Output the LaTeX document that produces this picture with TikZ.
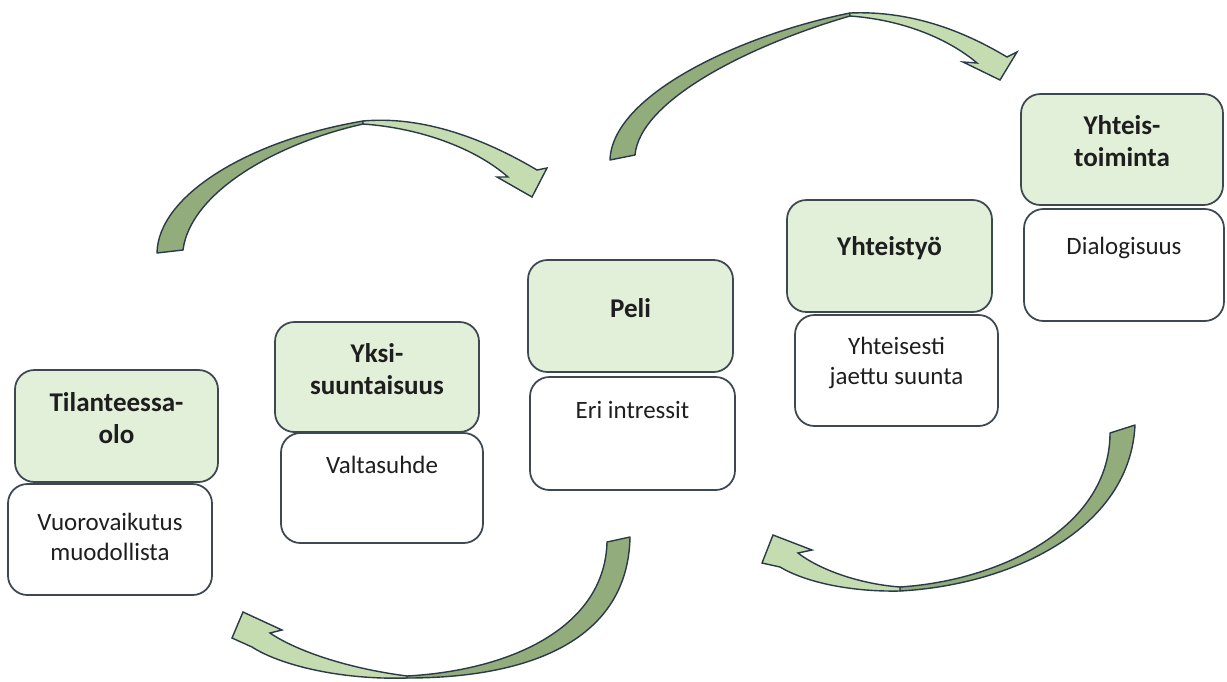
\documentclass[tikz,border=0pt]{standalone}
\usepackage{fontspec}
\setmainfont{Carlito}
\definecolor{boxgreen}{HTML}{E2EFD9}
\definecolor{boxline}{HTML}{3E4852}
\definecolor{arrline}{HTML}{2B3A48}
\definecolor{arrdark}{RGB}{146,172,124}
\definecolor{arrlight}{RGB}{197,219,176}
\definecolor{txt}{HTML}{1E1E1E}
\tikzset{
  greenbox/.style={draw=boxline, line width=1pt, fill=boxgreen, rounded corners=11pt, inner sep=0pt},
  whitebox/.style={draw=boxline, line width=1pt, fill=white, rounded corners=11pt, inner sep=0pt},
  headtext/.style={inner sep=0pt, align=center, text=txt, font=\fontsize{15.4pt}{18.2pt}\selectfont\bfseries},
  bodytext/.style={inner sep=0pt, align=center, anchor=north, text=txt, font=\fontsize{14.2pt}{17.1pt}\selectfont},
  darkpart/.style={fill=arrdark, draw=arrline, line width=0.8pt, line join=round},
  lightpart/.style={fill=arrlight, draw=arrline, line width=0.8pt, line join=miter},
}
\begin{document}
\begin{tikzpicture}[x=0.02cm, y=-0.02cm]
\useasboundingbox[fill=white] (0,0) rectangle (1227,681);

% ---- boxes ----
\node[greenbox, minimum width=4.06cm, minimum height=2.24cm] (g1) at (116.5,426) {};
\node[whitebox, minimum width=4.08cm, minimum height=2.22cm] (w1) at (110,539.5) {};
\node[greenbox, minimum width=4.08cm, minimum height=2.20cm] (g2) at (377,377) {};
\node[whitebox, minimum width=4.04cm, minimum height=2.20cm] (w2) at (382,488) {};
\node[greenbox, minimum width=4.10cm, minimum height=2.24cm] (g3) at (630.5,316) {};
\node[whitebox, minimum width=4.10cm, minimum height=2.26cm] (w3) at (632.5,433.5) {};
\node[greenbox, minimum width=4.10cm, minimum height=2.24cm] (g4) at (889.5,256) {};
\node[whitebox, minimum width=4.06cm, minimum height=2.22cm] (w4) at (896.5,370.5) {};
\node[greenbox, minimum width=4.04cm, minimum height=2.22cm] (g5) at (1122,149.5) {};
\node[whitebox, minimum width=4.00cm, minimum height=2.24cm] (w5) at (1124,265) {};

% ---- headings ----
\node[headtext] (h1) at ([yshift=0.16cm]g1.center) {Tilanteessa-\\olo};
\node[headtext] (h2) at ([yshift=0.16cm]g2.center) {Yksi-\\suuntaisuus};
\node[headtext] (h3) at ([yshift=0.16cm]g3.center) {Peli};
\node[headtext] (h4) at ([yshift=0.16cm]g4.center) {Yhteistyö};
\node[headtext] (h5) at ([yshift=0.16cm]g5.center) {Yhteis-\\toiminta};

% ---- body texts ----
\node[bodytext] (b1) at ([yshift=-0.6cm]w1.north) {Vuorovaikutus\\muodollista};
\node[bodytext] (b2) at ([yshift=-0.47cm]w2.north) {Valtasuhde};
\node[bodytext] (b3) at ([yshift=-0.5cm]w3.north) {Eri intressit};
\node[bodytext] (b4) at ([yshift=-0.46cm]w4.north) {Yhteisesti\\jaettu suunta};
\node[bodytext] (b5) at ([yshift=-0.58cm]w5.north) {Dialogisuus};

% ---- curved arrow A (top left) ----
\path[darkpart] (157,253) .. controls (158,195) and (250,140) .. (363,121)
  -- (363,124) .. controls (270,145) and (190,195) .. (183,250) -- cycle;
\path[lightpart] (363,121) .. controls (430,115) and (495,145) .. (537,170)
  -- (547,168) -- (532,197) -- (497,177) -- (508,177)
  .. controls (475,148) and (420,128) .. (363,124) -- cycle;

% ---- curved arrow B (top right) ----
\path[darkpart] (610,160) .. controls (612,95) and (740,35) .. (850,13)
  -- (850,16) .. controls (750,45) and (640,100) .. (635,155) -- cycle;
\path[lightpart] (850,13) .. controls (920,10) and (975,38) .. (1007,57)
  -- (1017,52) -- (1000,80) -- (963,62) -- (977,63)
  .. controls (950,40) and (905,20) .. (850,16) -- cycle;

% ---- curved arrow C (bottom left) ----
\path[darkpart] (407,678) .. controls (530,678) and (628,640) .. (630,537)
  -- (607,542) .. controls (605,625) and (515,670) .. (407,676) -- cycle;
\path[lightpart] (407,678) .. controls (340,680) and (280,665) .. (252,647)
  -- (232,638) -- (243,612) -- (282,630) -- (270,633)
  .. controls (295,650) and (345,668) .. (407,676) -- cycle;

% ---- curved arrow D (bottom right) ----
\path[darkpart] (900,591) .. controls (1010,585) and (1130,530) .. (1135,425)
  -- (1110,433) .. controls (1110,525) and (1005,580) .. (900,587) -- cycle;
\path[lightpart] (900,591) .. controls (850,592) and (805,582) .. (780,567)
  -- (762,563) -- (773,535) -- (812,550) -- (798,553)
  .. controls (820,570) and (860,584) .. (900,587) -- cycle;
\end{tikzpicture}
\end{document}
